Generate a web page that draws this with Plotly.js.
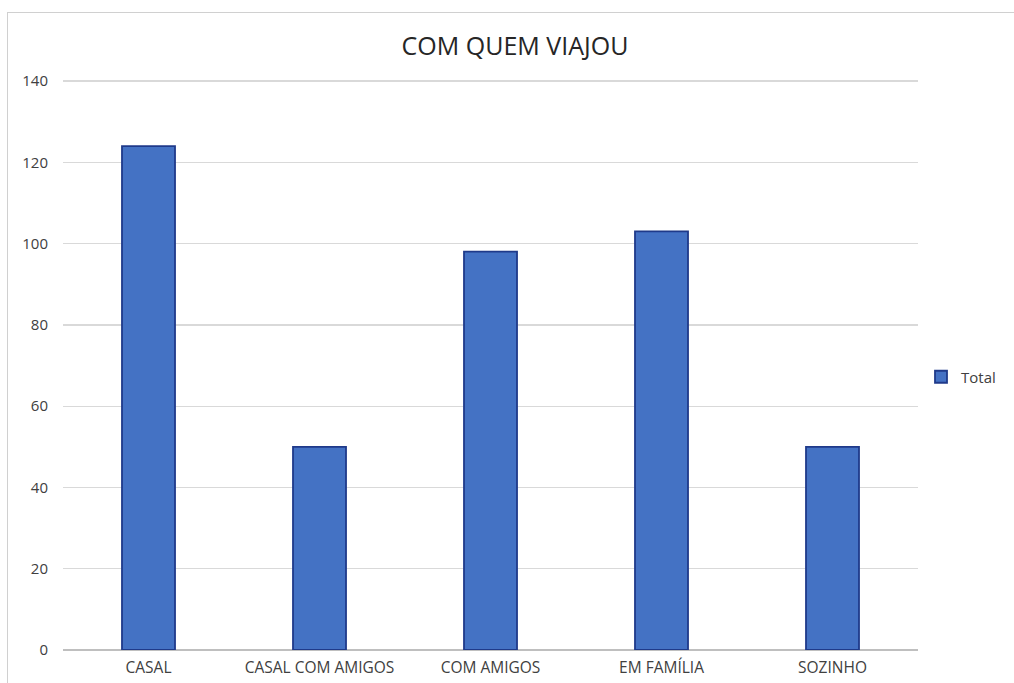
<!DOCTYPE html>
<html>
<head>
<meta charset="utf-8">
<script src="https://cdn.plot.ly/plotly-3.0.1.min.js"></script>
<style>
html,body{margin:0;padding:0;background:#fff;width:1014px;height:683px;overflow:hidden;}
#frame{position:absolute;left:7px;top:12px;width:1030px;height:700px;border:1px solid #d0d0d0;box-sizing:border-box;}
#chart{position:absolute;left:0;top:0;width:1014px;height:683px;}
</style>
</head>
<body>
<div id="frame"></div>
<div id="chart"></div>
<script>
var categories = ["CASAL", "CASAL COM AMIGOS", "COM AMIGOS", "EM FAMÍLIA", "SOZINHO"];
var totals = [124, 50, 98, 103, 50];
var seriesName = "Total";
var yTicks = [0, 20, 40, 60, 80, 100, 120, 140];

var font = "Open Sans, Noto Sans, sans-serif";
var trace = {
  type: "bar",
  x: categories,
  y: totals,
  name: seriesName,
  marker: {color: "#4472C4", line: {color: "#1F3A8A", width: 1.8}},
  hoverinfo: "x+y"
};
var layout = {
  width: 1014, height: 683,
  paper_bgcolor: "rgba(0,0,0,0)",
  plot_bgcolor: "rgba(0,0,0,0)",
  margin: {l: 63, r: 96, t: 80, b: 33, autoexpand: false},
  bargap: 0.69,
  showlegend: true,
  title: {text: "COM QUEM VIAJOU", font: {family: font, size: 25, color: "#262626"}, x: 515/1014, xref: "container", xanchor: "center", y: 1 - 46/683, yref: "container", yanchor: "middle"},
  legend: {xref: "container", x: 921/1014, xanchor: "left", yref: "container", y: 1 - 377/683, yanchor: "middle", font: {family: font, size: 15, color: "#404040"}, bgcolor: "rgba(0,0,0,0)", itemwidth: 30},
  xaxis: {
    type: "category",
    showgrid: false,
    showline: false,
    zeroline: false,
    ticks: "",
    tickfont: {family: font, size: 15.5, color: "#404040"},
    ticklabelstandoff: 6
  },
  yaxis: {
    range: [0, 140.25],
    tickvals: yTicks,
    ticktext: yTicks.map(String),
    showgrid: true,
    gridcolor: "#D9D9D9",
    gridwidth: 1.3,
    zeroline: true,
    zerolinecolor: "#BFBFBF",
    zerolinewidth: 1.3,
    showline: false,
    ticks: "",
    tickfont: {family: font, size: 15, color: "#404040"},
    ticklabelstandoff: 14
  }
};
Plotly.newPlot("chart", [trace], layout, {displayModeBar: false, staticPlot: true});
</script>
</body>
</html>
